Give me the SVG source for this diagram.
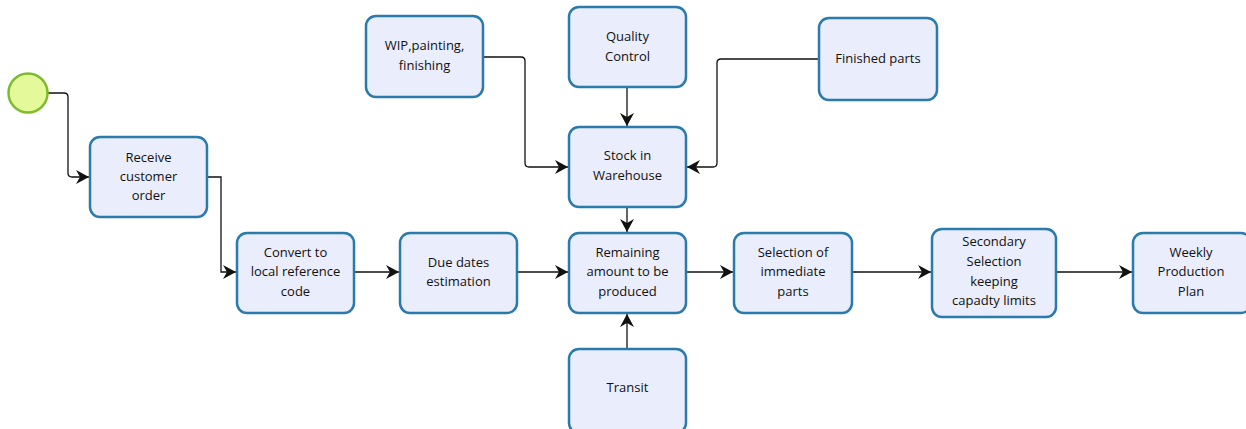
<svg xmlns="http://www.w3.org/2000/svg" width="1246" height="429" viewBox="0 0 1246 429">
  <style>
    .task rect { fill: #e9edfc; stroke: #2a7aab; stroke-width: 2.5; }
    .task text { font-family: "Open Sans", "Noto Sans", sans-serif; font-size: 13px; fill: #111; text-anchor: middle; }
    .flow { fill: none; stroke: #111; stroke-width: 1.3; marker-end: url(#arrow); }
  </style>
  <defs>
    <marker id="arrow" viewBox="0 0 14 14" refX="13" refY="7" markerWidth="14" markerHeight="14" markerUnits="userSpaceOnUse" orient="auto">
      <path d="M0,0 L13,7 L0,14 L4,7 Z" fill="#111"/>
    </marker>
  </defs>
  <rect width="1246" height="429" fill="#ffffff"/>

  <g id="connectors">
    <path class="flow" d="M48,93 H64 Q68,93 68,97 V173 Q68,177 72,177 H89"/>
    <path class="flow" d="M207,177 H221 V272 H236"/>
    <path class="flow" d="M354,272 H399"/>
    <path class="flow" d="M517,272 H568"/>
    <path class="flow" d="M686,272 H733"/>
    <path class="flow" d="M852,272 H931"/>
    <path class="flow" d="M1056,272 H1132"/>
    <path class="flow" d="M483,57 H521 Q525,57 525,61 V163 Q525,167 529,167 H568"/>
    <path class="flow" d="M819,59 H721 Q717,59 717,63 V163 Q717,167 713,167 H687"/>
    <path class="flow" d="M627,87 V126"/>
    <path class="flow" d="M627,207 V232"/>
    <path class="flow" d="M627,349 V314"/>
  </g>

  <g id="start">
    <circle cx="28" cy="93" r="19.5" fill="#e4f99a" stroke="#7dbb2c" stroke-width="2.5"/>
  </g>

  <g id="receive-order" class="task">
    <rect x="90" y="137" width="117" height="80" rx="10"/>
    <text x="148.5" y="162">Receive</text>
    <text x="148.5" y="181">customer</text>
    <text x="148.5" y="200">order</text>
  </g>

  <g id="convert-code" class="task">
    <rect x="237" y="233" width="117" height="80" rx="10"/>
    <text x="295.5" y="257">Convert to</text>
    <text x="295.5" y="276">local reference</text>
    <text x="295.5" y="296">code</text>
  </g>

  <g id="due-dates" class="task">
    <rect x="400" y="233" width="117" height="80" rx="10"/>
    <text x="458.5" y="267">Due dates</text>
    <text x="458.5" y="286">estimation</text>
  </g>

  <g id="remaining" class="task">
    <rect x="569" y="233" width="117" height="80" rx="10"/>
    <text x="627.5" y="257">Remaining</text>
    <text x="627.5" y="276">amount to be</text>
    <text x="627.5" y="296">produced</text>
  </g>

  <g id="selection-immediate" class="task">
    <rect x="734" y="233" width="118" height="80" rx="10"/>
    <text x="793" y="257">Selection of</text>
    <text x="793" y="276">immediate</text>
    <text x="793" y="296">parts</text>
  </g>

  <g id="secondary-selection" class="task">
    <rect x="932" y="229" width="124" height="88" rx="10"/>
    <text x="994" y="246">Secondary</text>
    <text x="994" y="266">Selection</text>
    <text x="994" y="286">keeping</text>
    <text x="994" y="305">capadty limits</text>
  </g>

  <g id="weekly-plan" class="task">
    <rect x="1133" y="233" width="118" height="80" rx="10"/>
    <text x="1191" y="257">Weekly</text>
    <text x="1191" y="276">Production</text>
    <text x="1191" y="296">Plan</text>
  </g>

  <g id="stock-warehouse" class="task">
    <rect x="569" y="127" width="117" height="80" rx="10"/>
    <text x="627.5" y="160">Stock in</text>
    <text x="627.5" y="180">Warehouse</text>
  </g>

  <g id="quality-control" class="task">
    <rect x="569" y="7" width="117" height="80" rx="10"/>
    <text x="627.5" y="41">Quality</text>
    <text x="627.5" y="61">Control</text>
  </g>

  <g id="wip" class="task">
    <rect x="366" y="16" width="117" height="81" rx="10"/>
    <text x="424.5" y="50">WIP,painting,</text>
    <text x="424.5" y="70">finishing</text>
  </g>

  <g id="finished-parts" class="task">
    <rect x="819" y="18" width="118" height="82" rx="10"/>
    <text x="878" y="63">Finished parts</text>
  </g>

  <g id="transit" class="task">
    <rect x="569" y="349" width="117" height="84" rx="10"/>
    <text x="627.5" y="392">Transit</text>
  </g>
</svg>
